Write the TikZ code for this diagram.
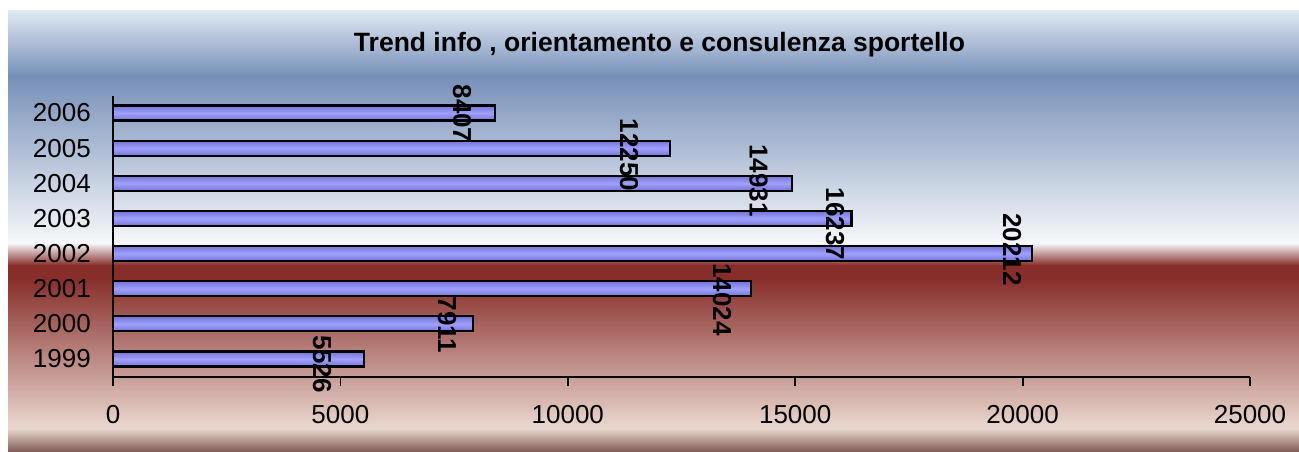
\documentclass[tikz,border=0pt]{standalone}
\usepackage{fontspec}
\setmainfont{Liberation Sans}
\usetikzlibrary{positioning}
\definecolor{bgA}{HTML}{DFE8F3}
\definecolor{bgB}{HTML}{7790B8}
\definecolor{bgC}{HTML}{F6F8FA}
\definecolor{bgD}{HTML}{872E2A}
\definecolor{bgE}{HTML}{EAD8D0}
\definecolor{bgF}{HTML}{7E5A54}
\definecolor{barout}{HTML}{7474D4}
\definecolor{barin}{HTML}{A0A0FF}

\begin{document}
\begin{tikzpicture}[x=1pt,y=-1pt]
\tikzstyle{every node}=[font=\fontsize{26}{30}\selectfont, inner sep=0pt]
\tikzstyle{bar}=[draw=black, line width=2.1pt, top color=barout, bottom color=barout, middle color=barin]
\tikzstyle{axisline}=[draw=black, line width=1.8pt]
\tikzstyle{val}=[font=\fontsize{26}{30}\selectfont\bfseries, rotate=-90]
% pixels per thousand
\def\xs{45.48}

\useasboundingbox (0,0) rectangle (1299,452);

% background
\shade[top color=bgA, bottom color=bgB] (8,11) rectangle (1299,76.5);
\shade[top color=bgB, bottom color=bgC] (8,76) rectangle (1299,243.5);
\shade[top color=bgC, bottom color=bgD] (8,243) rectangle (1299,265.5);
\shade[top color=bgD, bottom color=bgD] (8,265) rectangle (1299,278.5);
\shade[top color=bgD, bottom color=bgE] (8,278) rectangle (1299,428.5);
\shade[top color=bgE, bottom color=bgF] (8,428) rectangle (1299,452);

\node[font=\fontsize{26.5}{30}\selectfont\bfseries, anchor=base] (title) at (659.5,52)
  {Trend info , orientamento e consulenza sportello};

% bars
\draw[bar] (113,105.5) rectangle ({113+8.407*\xs},120.5);
\draw[bar] (113,140.7) rectangle ({113+12.250*\xs},155.7);
\draw[bar] (113,175.8) rectangle ({113+14.931*\xs},190.8);
\draw[bar] (113,210.9) rectangle ({113+16.237*\xs},225.9);
\draw[bar] (113,246.1) rectangle ({113+20.212*\xs},261.1);
\draw[bar] (113,281.2) rectangle ({113+14.024*\xs},296.2);
\draw[bar] (113,316.4) rectangle ({113+7.911*\xs},331.4);
\draw[bar] (113,351.5) rectangle ({113+5.526*\xs},366.5);

% axes
\coordinate (o) at (113,377);
\coordinate (ytop) at (113,96);
\coordinate (xend) at (1250,377);
\draw[axisline] (ytop) -- (o) -- (xend);
\foreach \t in {0,...,5}
  \draw[axisline] ([xshift=\t*227.4pt]o) -- ++(0,9);

\node[anchor=east] (y2006) at (91,113) {2006};
\node[anchor=east] (y2005) at (91,148.2) {2005};
\node[anchor=east] (y2004) at (91,183.3) {2004};
\node[anchor=east] (y2003) at (91,218.4) {2003};
\node[anchor=east] (y2002) at (91,253.6) {2002};
\node[anchor=east] (y2001) at (91,288.7) {2001};
\node[anchor=east] (y2000) at (91,323.9) {2000};
\node[anchor=east] (y1999) at (91,359) {1999};

\node (t0) at (113,415) {0};
\node (t5) at (340.4,415) {5000};
\node (t10) at (567.8,415) {10000};
\node (t15) at (795.2,415) {15000};
\node (t20) at (1022.6,415) {20000};
\node (t25) at (1250,415) {25000};

% values
\node[val] (v2006) at (462,113.5) {8407};
\node[val] (v2005) at (629,155) {12250};
\node[val] (v2004) at (758.5,180.5) {14931};
\node[val] (v2003) at (835,224) {16237};
\node[val] (v2002) at (1012,249.5) {20212};
\node[val] (v2001) at (722,299.5) {14024};
\node[val] (v2000) at (447,325) {7911};
\node[val] (v1999) at (322,364) {5526};

\end{tikzpicture}
\end{document}
